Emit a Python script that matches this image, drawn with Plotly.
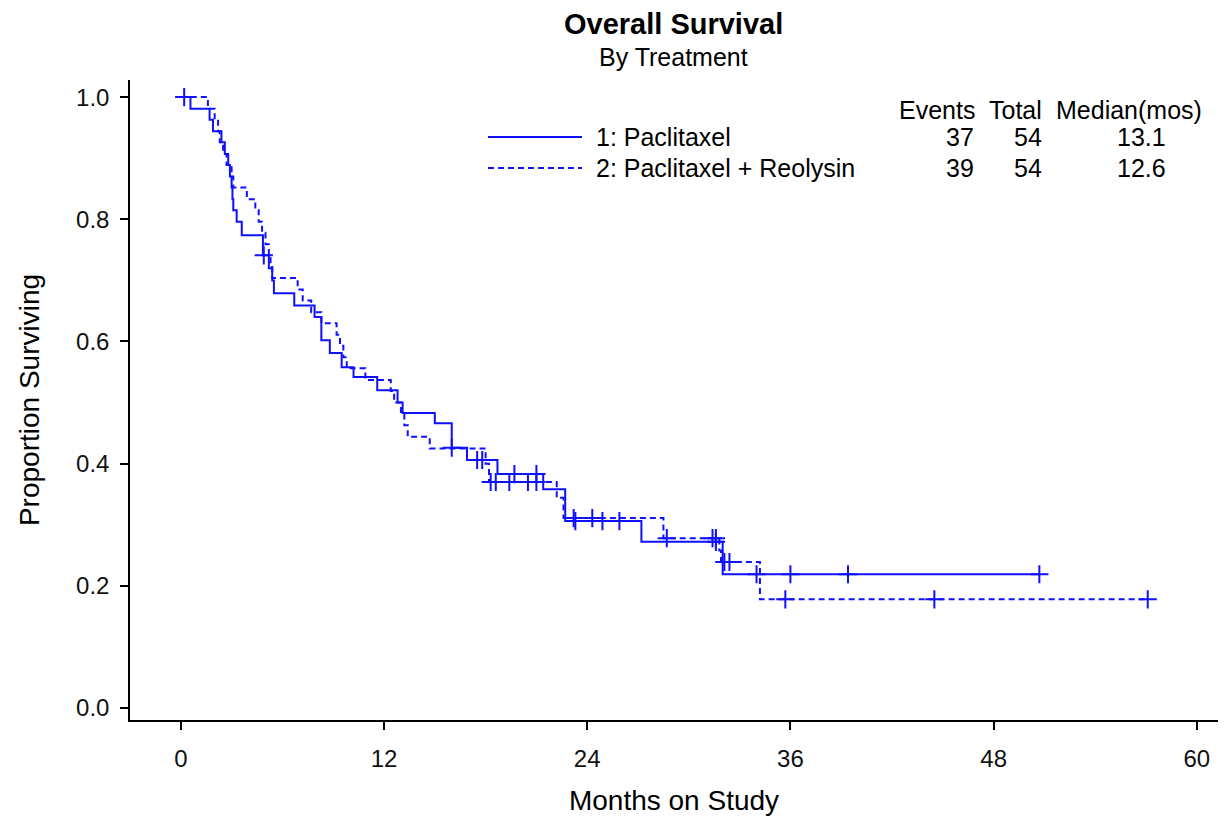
import plotly.graph_objects as go

# ---- Data ----
# Arm 1: Paclitaxel  (event times in months, survival after each step)
t1 = [0, 0.57, 1.7, 1.9, 2.4, 2.6, 2.8, 2.9, 3.0, 3.05, 3.1, 3.3, 3.6,
      4.85, 5.2, 5.4, 5.5, 6.7, 7.9, 8.3, 8.8, 9.5, 10.2, 11.6, 12.8, 13.1,
      15.0, 16.0, 16.9, 18.7, 21.4, 22.7, 27.2, 32.0]
s1 = [1.0, 0.981, 0.963, 0.944, 0.926, 0.907, 0.889, 0.870, 0.852, 0.833, 0.815, 0.796, 0.774,
      0.741, 0.720, 0.700, 0.679, 0.659, 0.640, 0.602, 0.581, 0.558, 0.542, 0.520, 0.500, 0.483,
      0.466, 0.426, 0.406, 0.383, 0.358, 0.306, 0.272, 0.219]
end1 = 50.7
c1_t = [0.2, 4.9, 16.0, 17.5, 17.8, 19.7, 21.0, 23.3, 24.9, 25.9, 31.6, 34.0, 36.0, 39.4, 50.7]

# Arm 2: Paclitaxel + Reolysin
t2 = [0, 1.6, 2.0, 2.2, 2.3, 2.5, 2.7, 3.0, 3.1, 3.9, 4.4, 4.6, 4.8, 5.0, 5.2, 5.3, 5.4,
      6.9, 7.2, 7.7, 8.3, 9.2, 9.4, 9.6, 9.8, 10.9, 12.4, 12.6, 13.0, 13.2, 13.4, 14.7,
      18.0, 18.2, 22.2, 22.6, 28.5, 31.8, 31.9, 34.2]
s2 = [1.0, 0.981, 0.963, 0.944, 0.926, 0.907, 0.889, 0.870, 0.852, 0.833, 0.815, 0.796, 0.778,
      0.759, 0.741, 0.722, 0.704, 0.685, 0.667, 0.648, 0.630, 0.611, 0.593, 0.574, 0.556, 0.537,
      0.519, 0.500, 0.481, 0.463, 0.444, 0.425, 0.400, 0.370, 0.344, 0.311, 0.278, 0.258, 0.239,
      0.178]
end2 = 57.1
c2_t = [18.3, 18.6, 19.4, 20.5, 21.0, 23.2, 24.3, 28.7, 31.4, 31.6, 32.1, 32.4, 35.7, 44.5, 57.1]

names = ["1: Paclitaxel", "2: Paclitaxel + Reolysin"]
events = ["37", "39"]
totals = ["54", "54"]
medians = ["13.1", "12.6"]
x_ticks = [0, 12, 24, 36, 48, 60]
y_ticks = [0.0, 0.2, 0.4, 0.6, 0.8, 1.0]

BLUE = "#1010ff"
FONT = "Liberation Sans, Arial, sans-serif"
LEG = 25


def surv_at(times, surv, t):
    val = surv[0]
    for ti, si in zip(times, surv):
        if ti <= t:
            val = si
        else:
            break
    return val


fig = go.Figure()
dashes = ["solid", "6px,4px"]
for t, s, end, ct, dsh, nm in [(t1, s1, end1, c1_t, dashes[0], names[0]),
                               (t2, s2, end2, c2_t, dashes[1], names[1])]:
    fig.add_trace(go.Scatter(x=t + [end], y=s + [s[-1]], mode="lines",
                             line=dict(color=BLUE, width=2, dash=dsh, shape="hv"),
                             name=nm, showlegend=False, hoverinfo="skip"))
    fig.add_trace(go.Scatter(x=ct, y=[surv_at(t, s, c) for c in ct], mode="markers",
                             marker=dict(symbol="cross-thin", size=13, color=BLUE,
                                         line=dict(color=BLUE, width=2)),
                             showlegend=False, hoverinfo="skip"))

# page offset (default body margin) and plot area in screen pixels
OFF = 8
L, R, T, B = 130, 1218, 80, 720
W, H = 1227 - OFF, 821 - OFF


def px(xp):
    return (xp - L) / (R - L)


def py(yp):
    return (B - yp) / (B - T)


def txt(text, x, y, anchor, size=LEG):
    return dict(text=text, x=px(x), y=py(y), xref="paper", yref="paper", showarrow=False,
                xanchor=anchor, yanchor="middle", font=dict(size=size, color="black", family=FONT))


ann = [txt("<b>Overall Survival</b>", 673, 24, "center", 29),
       txt("By Treatment", 673, 57, "center", 25),
       txt("Events", 977, 110, "right"),
       txt("Total", 1044, 110, "right"),
       txt("Median(mos)", 1204, 110, "right")]
shapes = []
for i, rowy in enumerate([137, 168]):
    yy = py(rowy)
    shapes.append(dict(type="line", xref="paper", yref="paper", x0=px(488), x1=px(582), y0=yy, y1=yy,
                       line=dict(color=BLUE, width=2, dash=dashes[i])))
    ann.append(txt(names[i], 594, rowy, "left"))
    ann.append(txt(events[i], 976, rowy, "right"))
    ann.append(txt(totals[i], 1044, rowy, "right"))
    ann.append(txt(medians[i], 1141, rowy, "center"))

fig.update_layout(
    width=W, height=H,
    margin=dict(l=L - OFF, r=W - (R - OFF), t=T - OFF, b=H - (B - OFF), autoexpand=False),
    paper_bgcolor="white", plot_bgcolor="white",
    font=dict(family=FONT, color="black", size=24),
    annotations=ann, shapes=shapes,
    xaxis=dict(range=[-3.0, 61.25], tickvals=x_ticks, ticktext=[str(v) for v in x_ticks],
               showgrid=False, zeroline=False, showline=True, linecolor="black", linewidth=1.5,
               ticks="outside", ticklen=8, tickcolor="black", tickwidth=1.5,
               ticklabelstandoff=8,
               tickfont=dict(size=24, color="#111"),
               title=dict(text="Months on Study", font=dict(size=28, color="black"), standoff=20)),
    yaxis=dict(range=[-0.0196, 1.028], tickvals=y_ticks, ticktext=[f"{v:.1f}" for v in y_ticks],
               showgrid=False, zeroline=False, showline=True, linecolor="black", linewidth=1.5,
               ticks="outside", ticklen=8, tickcolor="black", tickwidth=1.5,
               ticklabelstandoff=6,
               tickfont=dict(size=24, color="#111"),
               title=dict(text="Proportion Surviving", font=dict(size=28, color="black"), standoff=28)),
)

fig.write_html("out.html")
